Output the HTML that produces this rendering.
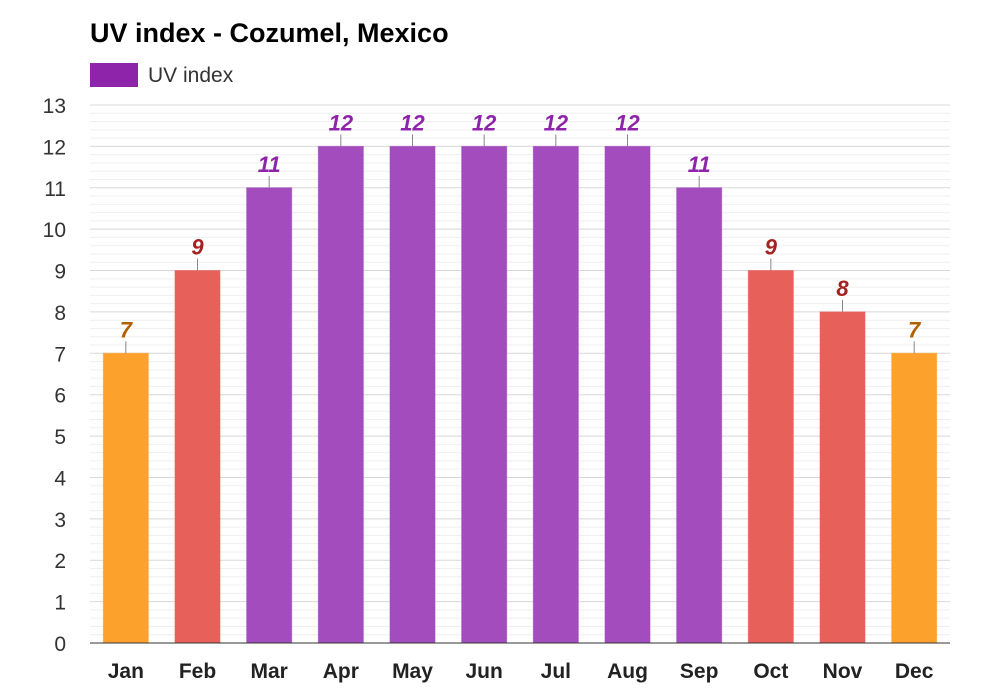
<!DOCTYPE html>
<html><head><meta charset="utf-8"><style>
body{margin:0;background:#fff;font-family:"Liberation Sans",Arial,sans-serif}
svg{display:block}
</style></head><body>
<svg id="c" width="1000" height="700" viewBox="0 0 1000 700">
<text x="90" y="42" font-size="27" font-weight="bold" fill="#000">UV index - Cozumel, Mexico</text>
<g>
<rect x="90" y="63" width="48" height="24" fill="#8e24aa"></rect>
<text x="148" y="82" font-size="21" fill="#333">UV index</text>
</g>
<g id="grid"></g><g id="bars"></g><g id="axes"></g>
</svg>
<script>
const months=["Jan","Feb","Mar","Apr","May","Jun","Jul","Aug","Sep","Oct","Nov","Dec"];
const uvValues=[7,9,11,12,12,12,12,12,11,9,8,7];
const yTicks=[0,1,2,3,4,5,6,7,8,9,10,11,12,13];
const x0=90,x1=950,yB=643,yT=105,yMax=13;
const band=(x1-x0)/months.length;
const y=v=>yB-(yB-yT)*v/yMax;
const xc=i=>x0+band*(i+0.5);
const NS="http://www.w3.org/2000/svg";
function mk(tag,attrs,parent,txt){const e=document.createElementNS(NS,tag);for(const k in attrs)e.setAttribute(k,attrs[k]);if(txt!==undefined)e.textContent=txt;parent.appendChild(e);return e;}
const grid=document.getElementById('grid'),bars=document.getElementById('bars'),axes=document.getElementById('axes');
for(let v=0;v<=yMax*5;v++){
  const yy=y(v/5);
  const major=v%5===0;
  const l=mk('line',{x1:x0,x2:x1,y1:yy,y2:yy,stroke:major?'#d8d8d8':'#efefef','stroke-width':1},grid);
  
  
}
yTicks.forEach(t=>{
  const tx=mk('text',{x:66,y:y(t)+8,'font-size':21,fill:'#333','text-anchor':'end'},axes,String(t));
  
  
});
function colors(v){
  if(v>=11)return['#a24cbe','#8e24aa'];
  if(v>=8)return['#e8605a','#a52222'];
  return['#fda12d','#b35f00'];
}
uvValues.forEach((v,i)=>{
  const [fill,lab]=colors(v);
  const w=45,cx=xc(i);
  const r=mk('rect',{x:cx-w/2,y:y(v),width:w,height:yB-y(v),fill:fill,stroke:fill,'stroke-opacity':0.6},bars);
  
  
  const tl=mk('line',{x1:cx,x2:cx,y1:y(v),y2:y(v)-12,stroke:'#888','stroke-width':1},bars);
  
  
  const t=mk('text',{x:cx,y:y(v)-16,'font-size':22,'font-weight':'bold','font-style':'italic',fill:lab,'text-anchor':'middle'},bars,String(v));
  
  
  const m=mk('text',{x:cx,y:678,'font-size':21,'font-weight':'bold',fill:'#222','text-anchor':'middle'},axes,months[i]);
  
  
});
const ax=mk('line',{x1:x0,x2:x1,y1:yB,y2:yB,stroke:'#333','stroke-width':1},axes);


</script>
</body></html>
